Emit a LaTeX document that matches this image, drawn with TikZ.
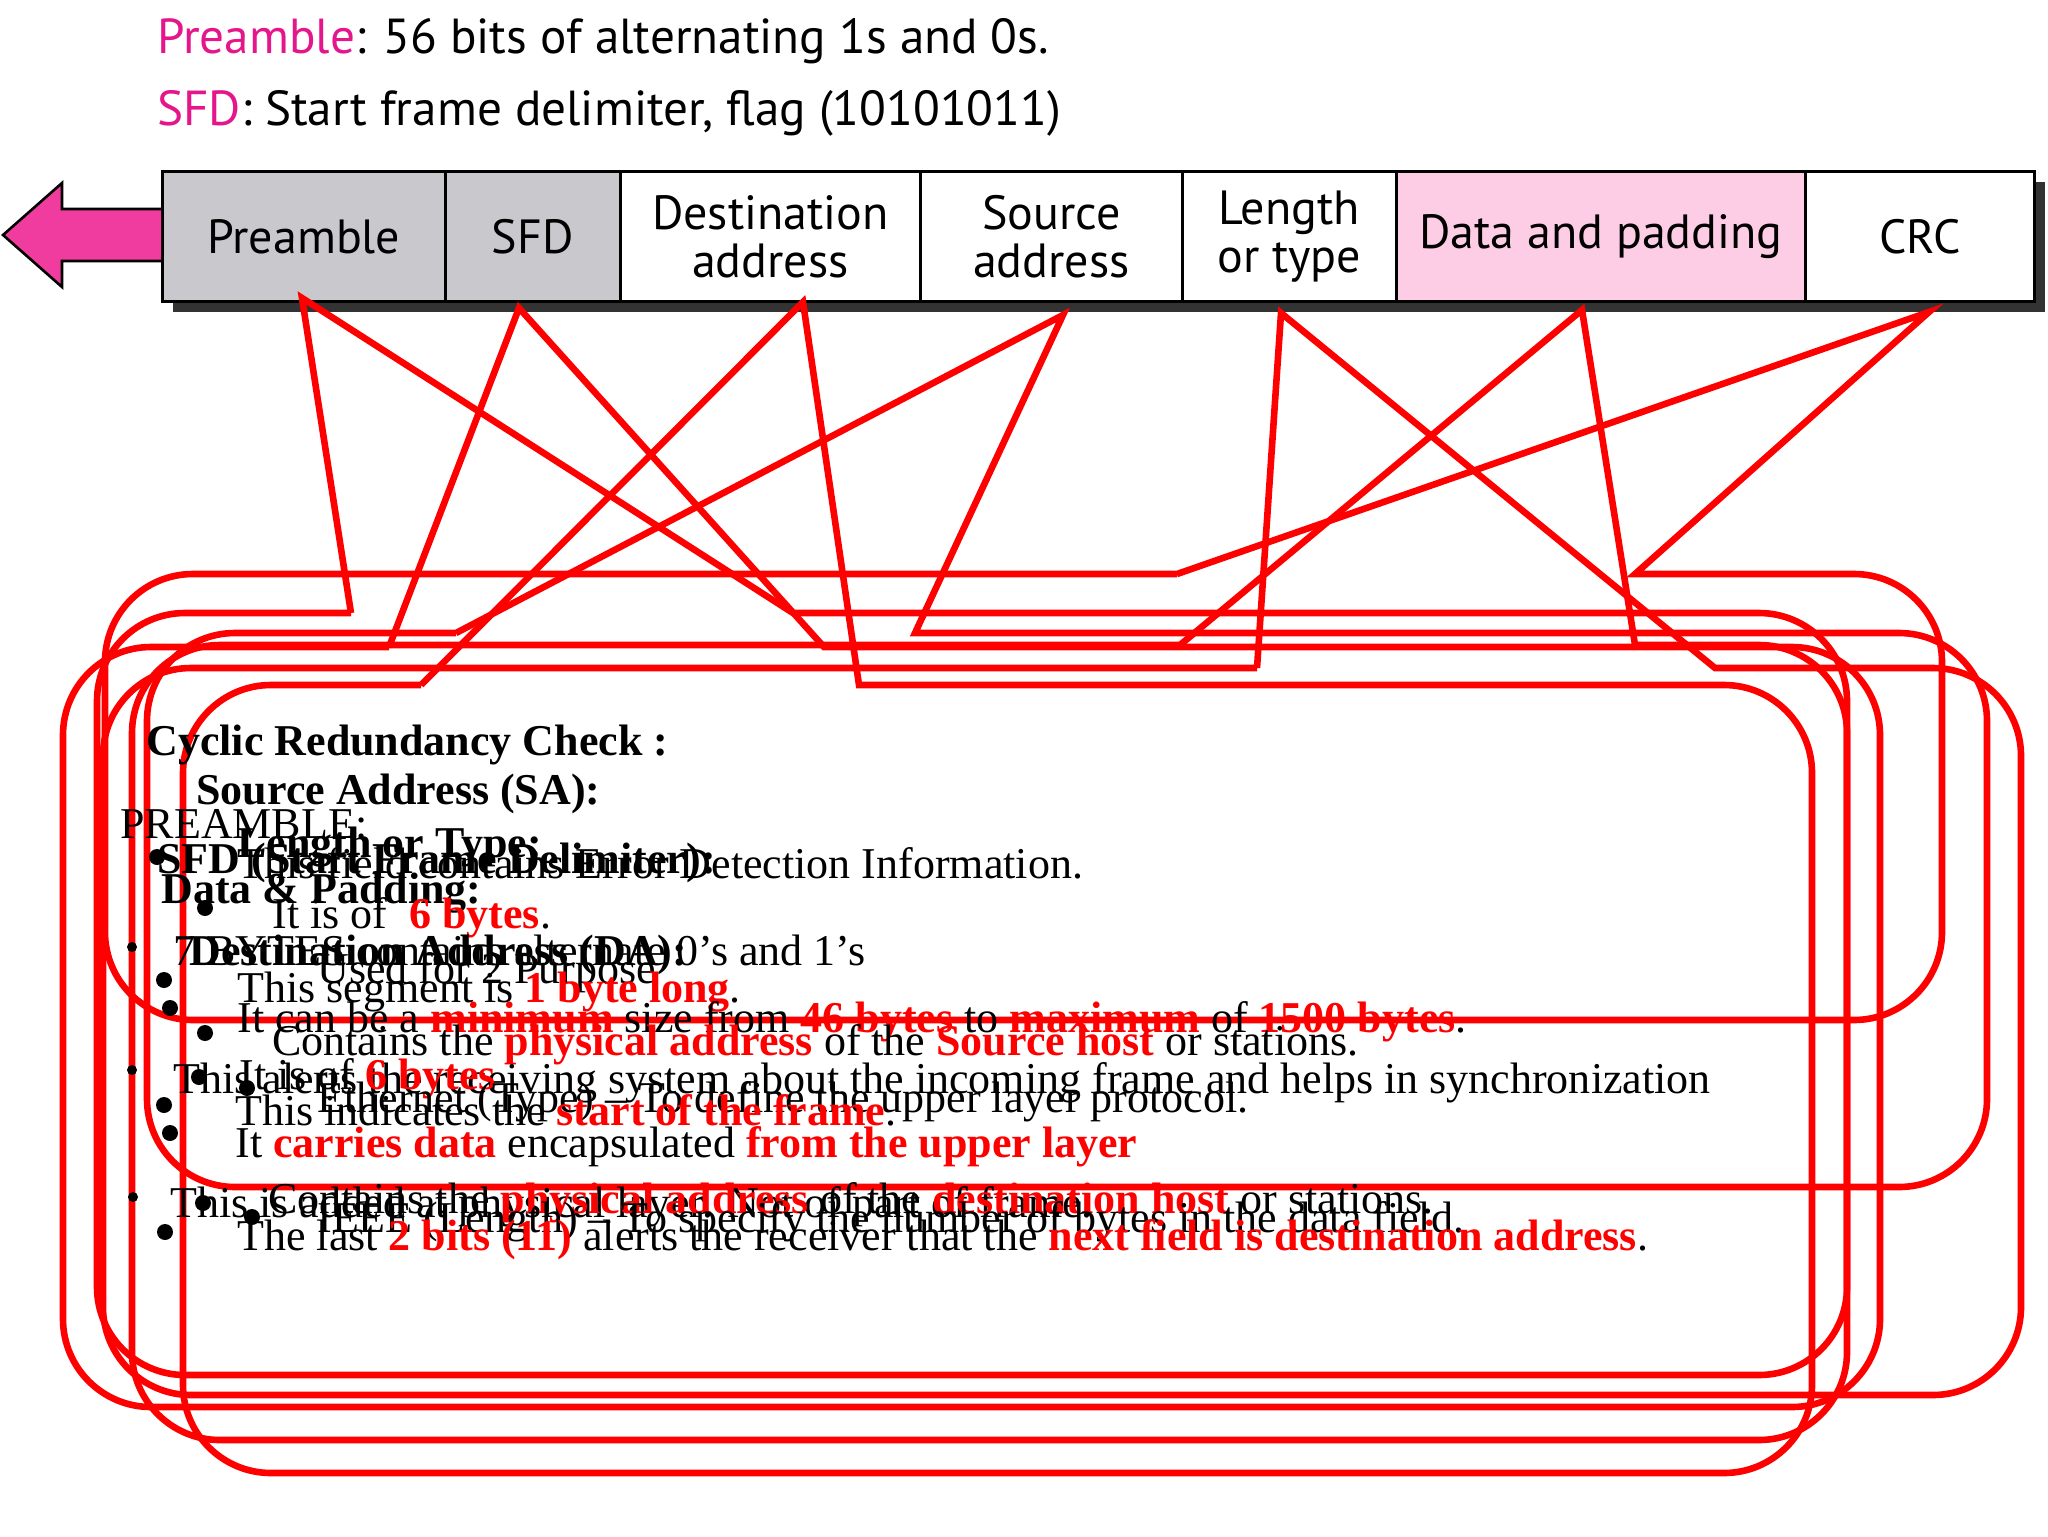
\documentclass[tikz,border=0pt]{standalone}
\usepackage{fontspec}
\setmainfont{Liberation Serif}
\newfontfamily\hsans{PT Sans}
\definecolor{mag}{HTML}{E5168B}
\definecolor{arrowpink}{HTML}{F03C9E}
\definecolor{fgrey}{HTML}{C9C8CD}
\definecolor{fpink}{HTML}{FCCDE4}
\definecolor{lred}{HTML}{FF0000}
\newcommand\hl[1]{\textcolor{lred}{\textbf{#1}}}
\newcommand\callout[8]{%
  \draw[cl] (#5,#2) -- (#7,#8) -- (#6,#2) [rounded corners=44pt] -- (#3,#2) -- (#3,#4) -- (#1,#4) -- (#1,#2) -- (#5,#2);}
\tikzset{
  cl/.style={draw=lred,line width=3.3pt,line join=miter},
  fld/.style={draw=black,line width=1.3pt,minimum height=65pt,inner sep=0pt,font=\hsans\fontsize{24}{26}\selectfont,align=center,anchor=north west},
  txt/.style={anchor=base west,inner sep=0pt,font=\fontsize{22}{24}\selectfont},
  hd/.style={txt,font=\fontsize{22}{24}\selectfont\bfseries},
  bul/.style={fill=black}
}
\begin{document}
\begin{tikzpicture}[x=0.5pt,y=-0.5pt]
\useasboundingbox (0,0) rectangle (2048,1536);
% top text
\node[anchor=base west,inner sep=0pt,font=\hsans\fontsize{24.6}{27}\selectfont] (t1) at (157,54) {\textcolor{mag}{Preamble}: 56 bits of alternating 1s and 0s.};
\node[anchor=base west,inner sep=0pt,font=\hsans\fontsize{24.6}{27}\selectfont] (t2) at (157,126) {\textcolor{mag}{SFD}: Start frame delimiter, flag (10101011)};
% shadow
\fill[black!80] (173,182) rectangle (2045,312);
% fields
\node[fld,fill=fgrey,minimum width=141.5pt] (f1) at (161,170) {Preamble};
\node[fld,fill=fgrey,minimum width=87.5pt] (f2) at (444,170) {SFD};
\node[fld,fill=white,minimum width=150pt] (f3) at (619,170) {Destination\\[-2pt]address};
\node[fld,fill=white,minimum width=131pt] (f4) at (919,170) {Source\\[-2pt]address};
\node[fld,fill=white,minimum width=107pt] (f5) at (1181,170) {Length\\[-2pt]or type};
\node[fld,fill=fpink,minimum width=204.5pt] (f6) at (1395,170) {Data and padding};
\node[fld,fill=white,minimum width=114.5pt] (f7) at (1804,170) {CRC};
% arrow
\draw[fill=arrowpink,line width=1.3pt,line join=miter] (161,209) -- (62,209) -- (62,183) -- (3,235) -- (62,287) -- (62,261) -- (161,261);
% callouts: L T R B base1 base2 tipx tipy
\callout{105}{574}{1942}{1020}{1177}{1635}{1929}{312}
\callout{97}{613}{1847}{1375}{351}{793}{302}{298}
\callout{147}{633}{1987}{1187}{456}{915}{1063}{315}
\callout{63}{647}{1880}{1407}{389}{824}{519}{308}
\callout{132}{645}{1847}{1440}{1180}{1635}{1582}{310}
\callout{103}{668}{2021}{1395}{1257}{1715}{1281}{313}
\callout{183}{685}{1812}{1473}{421}{859}{803}{302}
% texts
\node[hd] (a1) at (146,755) {Cyclic Redundancy Check :};
\node[hd] (a2) at (196,804) {Source Address (SA):};
\node[txt] (a3) at (120,838) {PREAMBLE:};
\node[hd] (a4) at (237,857) {Length or Type:};
\node[hd] (a5) at (157,873) {SFD (Start Frame Delimiter):};
\node[txt] (a6) at (237,878) {This field contains Error Detection Information.};
\node[hd] (a7) at (161,903) {Data \& Padding:};
\node[txt] (a8) at (272,928) {It is of \ \hl{6 bytes}.};
\node[txt] (a9) at (173,965) {7 BYTES contains alternate 0’s and 1’s};
\node[hd] (a10) at (189,965) {Destination Address (DA):};
\node[txt] (a11) at (317,983) {Used for 2 Purpose};
\node[txt] (a12) at (237,1002) {This segment is \hl{1 byte long}.};
\node[txt] (a13) at (237,1032) {It can be a \hl{minimum} size from \hl{46 bytes} to \hl{maximum} of \hl{1500 bytes}.};
\node[txt] (a14) at (272,1055) {Contains the \hl{physical address} of the \hl{Source host} or stations.};
\node[txt] (a15) at (173,1093) {This alerts the receiving system about the incoming frame and helps in synchronization};
\node[txt] (a16) at (239,1089) {It is of \hl{6 bytes}};
\node[txt] (a17) at (317,1112) {Ethernet (Type) – To define the upper layer protocol.};
\node[txt] (a18) at (235,1125) {This indicates the \hl{start of the frame}.};
\node[txt] (a19) at (235,1157) {It \hl{carries data} encapsulated \hl{from the upper layer}};
\node[txt] (a20) at (170,1217) {This is added at physical layer. Not of part of frame.};
\node[txt] (a21) at (268,1213) {Contains the \hl{physical address} of the \hl{destination host} or stations.};
\node[txt] (a22) at (317,1232) {IEEE (Length) – To specify the number of bytes in the data field.};
\node[txt] (a23) at (237,1250) {The last \hl{2 bits (11)} alerts the receiver that the \hl{next field is destination address}.};
% bullets
\foreach \x/\y/\r in {157/857/8,205/908/8,132/947/5,164/980/8,170/1008/8,205/1033/8,132/1070/5,199/1077/8,247/1088/8,164/1105/8,170/1133/8,133/1197/5,203/1203/8,252/1217/8,165/1232/8}
  \fill[bul] (\x,\y) circle (\r);
\end{tikzpicture}
\end{document}
